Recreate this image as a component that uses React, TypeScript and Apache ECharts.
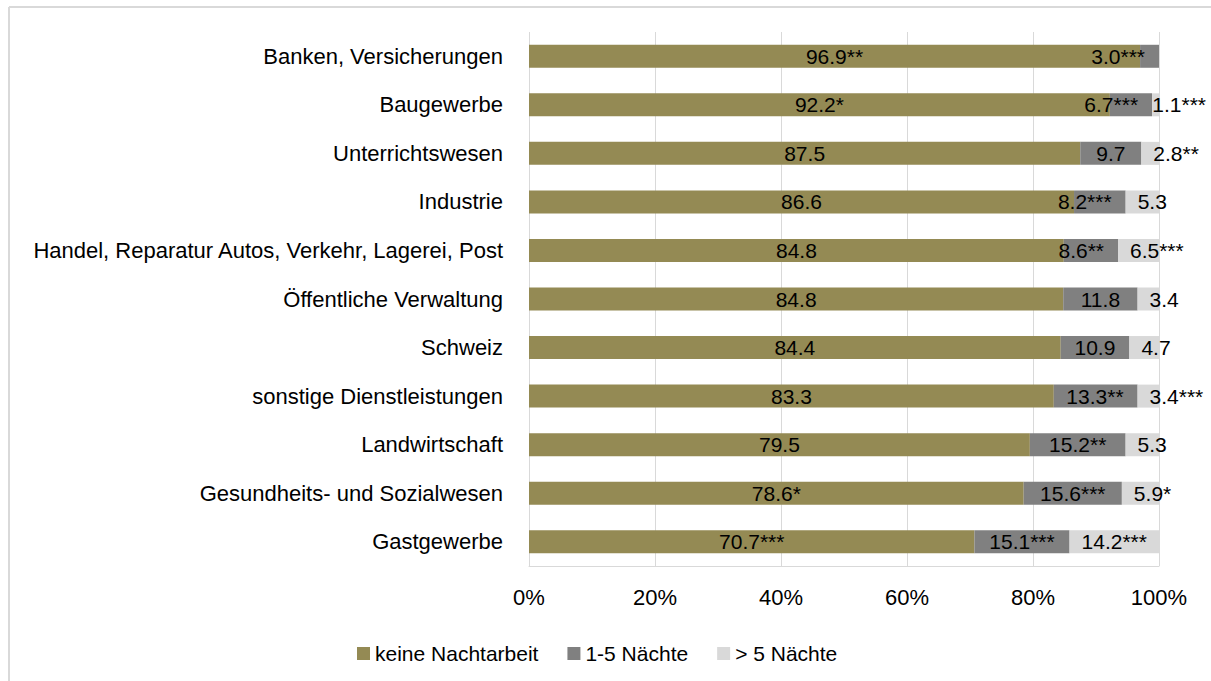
import React, { useEffect, useRef } from "react";
import * as echarts from "echarts";

const categories = [
  "Banken, Versicherungen",
  "Baugewerbe",
  "Unterrichtswesen",
  "Industrie",
  "Handel, Reparatur Autos, Verkehr, Lagerei, Post",
  "Öffentliche Verwaltung",
  "Schweiz",
  "sonstige Dienstleistungen",
  "Landwirtschaft",
  "Gesundheits- und Sozialwesen",
  "Gastgewerbe",
];

const seriesNames = ["keine Nachtarbeit", "1-5 Nächte", "> 5 Nächte"];

const keineNachtarbeit = [96.9, 92.2, 87.5, 86.6, 84.8, 84.8, 84.4, 83.3, 79.5, 78.6, 70.7];
const keineSig = ["**", "*", "", "", "", "", "", "", "", "*", "***"];

const naechte1bis5 = [3.0, 6.7, 9.7, 8.2, 8.6, 11.8, 10.9, 13.3, 15.2, 15.6, 15.1];
const naechte1bis5Sig = ["***", "***", "", "***", "**", "", "", "**", "**", "***", "***"];

const naechteUeber5: (number | null)[] = [null, 1.1, 2.8, 5.3, 6.5, 3.4, 4.7, 3.4, 5.3, 5.9, 14.2];
const naechteUeber5Sig = ["", "***", "**", "", "***", "", "", "***", "", "*", "***"];

const xTicks = { min: 0, max: 100, interval: 20 };

const colors = ["#948A54", "#808080", "#D9D9D9"];
const FONT = "'Liberation Sans', Arial, sans-serif";

const GRID = { left: 529, right: 52, top: 32, bottom: 115 };

export default function App() {
  const ref = useRef<HTMLDivElement>(null);

  useEffect(() => {
    if (!ref.current) return;
    const chart = echarts.init(ref.current, undefined, { renderer: "svg" });
    const W = 1211;

    const totals = categories.map(
      (_, i) => keineNachtarbeit[i] + naechte1bis5[i] + (naechteUeber5[i] ?? 0)
    );
    const build = (vals: (number | null)[], sig: string[]) =>
      vals.map((v, i) =>
        v == null
          ? { value: null, raw: null, sig: "" }
          : { value: (v / totals[i]) * 100, raw: v, sig: sig[i] }
      );

    const fmt = (p: any) => (p.data && p.data.raw != null ? p.data.raw.toFixed(1) + p.data.sig : "");

    const labelBase = {
      show: true,
      color: "#000",
      fontSize: 21,
      fontFamily: FONT,
      formatter: fmt,
    };

    // keep the label's right edge inside the bar segment (minus a small inset)
    const keepInsideSegment = (inset: number) => (params: any) => {
      const r = params.labelRect;
      const b = params.rect;
      if (!r || !b) return {};
      const over = r.x + r.width - (b.x + b.width - inset);
      return over > 0 ? { dx: -over } : {};
    };
    const keepLeftOf = (limit: number) => (params: any) => {
      const r = params.labelRect;
      if (!r) return {};
      const over = r.x + r.width - limit;
      return over > 0 ? { dx: -over } : {};
    };

    chart.setOption({
      animation: false,
      backgroundColor: "#fff",
      textStyle: { fontFamily: FONT },
      graphic: [
        { type: "line", shape: { x1: 9, y1: 7, x2: 1211, y2: 7 }, style: { stroke: "#D9D9D9", lineWidth: 2 } },
        { type: "line", shape: { x1: 9, y1: 7, x2: 9, y2: 681 }, style: { stroke: "#D9D9D9", lineWidth: 2 } },
      ],
      grid: { ...GRID, containLabel: false, outerBoundsMode: "none" },
      legend: {
        data: seriesNames,
        left: 357,
        top: 643,
        icon: "rect",
        itemWidth: 13,
        itemHeight: 13,
        itemGap: 29,
        padding: 0,
        textStyle: { fontSize: 21, color: "#000", fontFamily: FONT },
      },
      xAxis: {
        type: "value",
        min: xTicks.min,
        max: xTicks.max,
        interval: xTicks.interval,
        axisLabel: { formatter: "{value}%", fontSize: 22, color: "#000", margin: 20, fontFamily: FONT },
        axisLine: { show: true, lineStyle: { color: "#D9D9D9", width: 1 } },
        axisTick: { show: false },
        splitLine: { show: true, lineStyle: { color: "#D9D9D9", width: 1 } },
      },
      yAxis: {
        type: "category",
        data: categories,
        inverse: true,
        axisLabel: { fontSize: 22, color: "#000", margin: 26, fontFamily: FONT },
        axisLine: { show: false },
        axisTick: { show: false },
        splitLine: { show: false },
      },
      series: [
        {
          name: seriesNames[0],
          type: "bar",
          stack: "total",
          barWidth: 23,
          itemStyle: { color: colors[0] },
          label: { ...labelBase, position: "inside" },
          data: build(keineNachtarbeit, keineSig),
        },
        {
          name: seriesNames[1],
          type: "bar",
          stack: "total",
          barWidth: 23,
          itemStyle: { color: colors[1] },
          label: { ...labelBase, position: "inside" },
          labelLayout: keepInsideSegment(14),
          data: build(naechte1bis5, naechte1bis5Sig),
        },
        {
          name: seriesNames[2],
          type: "bar",
          stack: "total",
          barWidth: 23,
          itemStyle: { color: colors[2] },
          label: { ...labelBase, position: "insideLeft", distance: 12 },
          labelLayout: keepLeftOf(W - 5),
          data: build(naechteUeber5, naechteUeber5Sig),
        },
      ],
    });

    return () => chart.dispose();
  }, []);

  return (
    <div
      ref={ref}
      style={{ position: "fixed", left: 0, top: 0, width: 1211, height: 681, background: "#fff" }}
    />
  );
}
